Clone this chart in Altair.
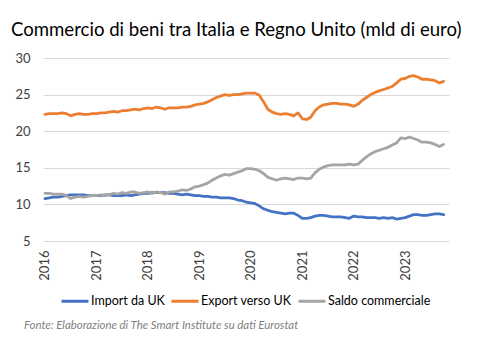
import altair as alt
import pandas as pd

# Monthly data, Jan 2016 - Oct 2023 (mld di euro)
months = pd.date_range("2016-01-01", "2023-10-01", freq="MS").strftime("%Y-%m-%d").tolist()

import_uk = [
    10.8, 10.9, 11.0, 11.0, 11.1, 11.2, 11.3, 11.3, 11.3, 11.3, 11.2, 11.2,
    11.2, 11.2, 11.3, 11.3, 11.2, 11.2, 11.2, 11.3, 11.2, 11.3, 11.4, 11.5,
    11.5, 11.6, 11.6, 11.6, 11.6, 11.5, 11.5, 11.4, 11.3, 11.4, 11.3, 11.2,
    11.2, 11.1, 11.1, 11.0, 11.0, 10.9, 10.9, 10.9, 10.8, 10.6, 10.5, 10.3,
    10.2, 10.1, 9.8, 9.4, 9.2, 9.0, 8.9, 8.8, 8.7, 8.8, 8.8, 8.5,
    8.1, 8.1, 8.2, 8.4, 8.5, 8.5, 8.4, 8.3, 8.3, 8.3, 8.2, 8.1,
    8.4, 8.3, 8.3, 8.2, 8.2, 8.2, 8.1, 8.2, 8.1, 8.2, 8.0, 8.1,
    8.2, 8.4, 8.6, 8.6, 8.5, 8.5, 8.6, 8.7, 8.7, 8.6,
]

export_uk = [
    22.3, 22.4, 22.4, 22.4, 22.5, 22.4, 22.1, 22.3, 22.4, 22.3, 22.3, 22.4,
    22.4, 22.5, 22.5, 22.6, 22.7, 22.6, 22.8, 22.8, 22.9, 23.0, 22.9, 23.1,
    23.2, 23.1, 23.3, 23.2, 23.0, 23.2, 23.2, 23.2, 23.3, 23.3, 23.4, 23.6,
    23.7, 23.8, 24.0, 24.3, 24.6, 24.8, 25.0, 24.9, 25.0, 25.0, 25.1, 25.2,
    25.2, 25.2, 24.9, 24.0, 23.0, 22.6, 22.4, 22.3, 22.4, 22.3, 22.1, 22.5,
    21.7, 21.6, 21.9, 22.8, 23.3, 23.6, 23.7, 23.8, 23.8, 23.7, 23.7, 23.6,
    23.4, 23.7, 24.2, 24.6, 25.0, 25.3, 25.5, 25.7, 25.9, 26.1, 26.6, 27.1,
    27.2, 27.5, 27.6, 27.4, 27.1, 27.1, 27.0, 26.9, 26.6, 26.8,
]

saldo = [
    11.5, 11.5, 11.4, 11.4, 11.4, 11.2, 10.8, 11.0, 11.1, 11.0, 11.1, 11.2,
    11.2, 11.3, 11.2, 11.3, 11.5, 11.4, 11.6, 11.5, 11.7, 11.7, 11.5, 11.6,
    11.7, 11.5, 11.7, 11.6, 11.4, 11.7, 11.7, 11.8, 12.0, 11.9, 12.1, 12.4,
    12.5, 12.7, 12.9, 13.3, 13.6, 13.9, 14.1, 14.0, 14.2, 14.4, 14.6, 14.9,
    14.9, 14.8, 14.6, 14.2, 13.7, 13.5, 13.3, 13.5, 13.6, 13.5, 13.4, 13.6,
    13.6, 13.5, 13.6, 14.3, 14.8, 15.1, 15.3, 15.4, 15.4, 15.4, 15.4, 15.5,
    15.4, 15.5, 16.0, 16.5, 16.9, 17.2, 17.4, 17.6, 17.8, 18.1, 18.4, 19.1,
    19.0, 19.2, 19.0, 18.8, 18.5, 18.5, 18.4, 18.2, 17.9, 18.2,
]

series_names = ["Import da UK", "Export verso UK", "Saldo commerciale"]
series_colors = ["#4472C4", "#ED7D31", "#A5A5A5"]
year_ticks = [2016, 2017, 2018, 2019, 2020, 2021, 2022, 2023]
y_ticks = [5, 10, 15, 20, 25, 30]

title_text = "Commercio di beni tra Italia e Regno Unito (mld di euro)"
source_text = "Fonte: Elaborazione di The Smart Institute su dati Eurostat"

rows = []
for name, vals in zip(series_names, [import_uk, export_uk, saldo]):
    for d, v in zip(months, vals):
        rows.append({"data": d, "serie": name, "valore": v})
df = pd.DataFrame(rows)

FONT = "Lato"

lines = alt.Chart(df).mark_line(strokeWidth=2.8, strokeJoin="round", strokeCap="round").encode(
    x=alt.X(
        "data:T",
        scale=alt.Scale(
            type="utc",
            domain=[alt.DateTime(year=2015, month=12, date=18, utc=True),
                    alt.DateTime(year=2023, month=11, date=8, utc=True)],
        ),
        axis=alt.Axis(
            title=None,
            values=[alt.DateTime(year=y, month=1, date=1, utc=True) for y in year_ticks],
            format="%Y",
            formatType="utc",
            labelAngle=270,
            labelFontSize=13,
            labelFont=FONT,
            labelColor="#404040",
            labelPadding=9,
            grid=False,
            domain=False,
            ticks=False,
        ),
    ),
    y=alt.Y(
        "valore:Q",
        scale=alt.Scale(domain=[5, 30], nice=False, zero=False),
        axis=alt.Axis(
            title=None,
            values=y_ticks,
            labelFontSize=13,
            labelFont=FONT,
            labelColor="#404040",
            labelPadding=13,
            grid=True,
            gridColor="#D9D9D9",
            gridWidth=1,
            domain=False,
            ticks=False,
        ),
    ),
    color=alt.Color(
        "serie:N",
        sort=series_names,
        scale=alt.Scale(domain=series_names, range=series_colors),
        legend=alt.Legend(
            title=None,
            orient="none",
            legendX=17,
            legendY=228,
            direction="horizontal",
            symbolType="stroke",
            symbolStrokeWidth=3,
            symbolSize=729,
            labelFontSize=12.5,
            labelFont=FONT,
            labelColor="#000000",
            labelOffset=1,
            columnPadding=0,
            padding=0,
        ),
    ),
)

title = alt.Chart(alt.Data(values=[{}])).mark_text(
    text=title_text, font=FONT, fontSize=18.6, align="left", baseline="alphabetic", color="#000000"
).encode(x=alt.value(-32), y=alt.value(-22))

source = alt.Chart(alt.Data(values=[{}])).mark_text(
    text=source_text, font=FONT, fontSize=11.4, fontStyle="italic", align="left",
    baseline="alphabetic", color="#7F7F7F"
).encode(x=alt.value(-19), y=alt.value(271))

chart = alt.layer(lines, title, source).properties(
    width=406,
    height=183,
    autosize=alt.AutoSizeParams(type="none"),
    padding={"left": 43, "top": 58, "right": 32, "bottom": 112},
).configure_view(stroke=None)

chart.save("out.html", embed_options={"renderer": "svg", "actions": False})
